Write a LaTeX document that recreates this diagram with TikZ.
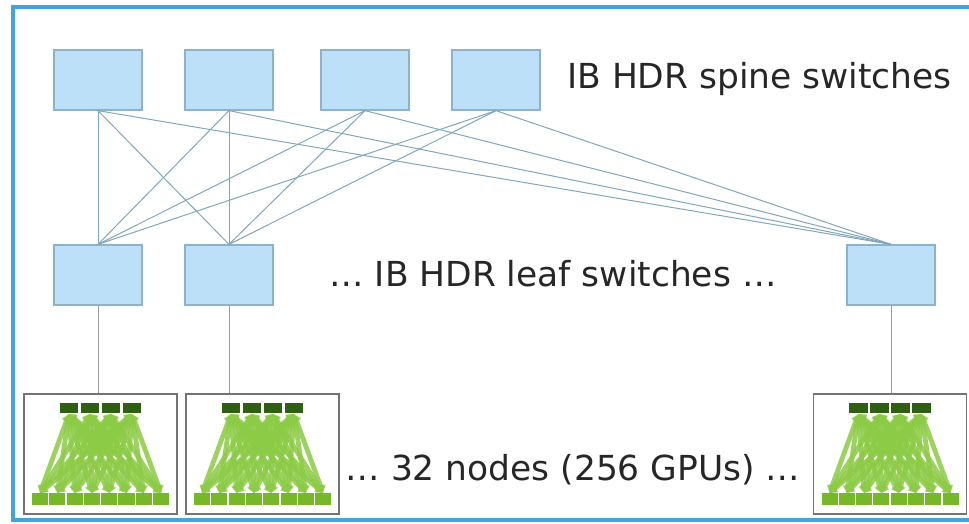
\documentclass[tikz,border=0pt]{standalone}
\usepackage{fontspec}
\setmainfont{DejaVu Sans}
\usepackage{tikz}
\usetikzlibrary{arrows.meta}

\definecolor{framecol}{HTML}{41A5DC}
\definecolor{switchfill}{HTML}{BCE0F8}
\definecolor{switchdraw}{HTML}{8CB2CC}
\definecolor{linkcol}{HTML}{7FA6BC}
\definecolor{nvsw}{HTML}{2F5F10}
\definecolor{gpugreen}{HTML}{76B82A}
\definecolor{fangreen}{HTML}{8CCB45}

\tikzset{
  switch/.style={draw=switchdraw, fill=switchfill, line width=0.9pt,
    minimum width=2.2cm, minimum height=1.5cm, inner sep=0pt},
  link/.style={draw=linkcol, line width=0.7pt},
  uplink/.style={draw=black!40, line width=0.7pt},
  label/.style={inner sep=0pt, text=black!85, font=\fontsize{24.5}{29}\selectfont},
  dgxbox/.style={draw=black!55, line width=0.8pt, fill=white,
    minimum width=3.825cm, minimum height=3cm, inner sep=0pt},
  nvswitch/.style={fill=nvsw, minimum width=0.47cm, minimum height=0.25cm, inner sep=0pt},
  gpu/.style={fill=gpugreen, minimum width=0.4cm, minimum height=0.3cm, inner sep=0pt},
  fan/.style={draw=fangreen, line width=3.4pt, opacity=0.85,
    {Triangle[width=7pt,length=5pt]}-{Triangle[width=7pt,length=5pt]}},
  % one 8-GPU node: 4 switches on top, 8 GPUs below, all-to-all
  dgx/.pic={
    \node[dgxbox] (-box) at (0,0) {};
    \foreach \k in {1,...,8}
      \foreach \j in {1,...,4}
        \draw[fan] (-77.8+\k*17.3,39) -- (-52.5+\j*21,-40);
    \foreach \j in {1,...,4}
      \node[nvswitch] (-sw\j) at (-52.5+\j*21,-46) {};
    \foreach \k in {1,...,8}
      \node[gpu] (-gpu\k) at (-77.8+\k*17.3,45) {};
  }
}

\begin{document}
\begin{tikzpicture}[x=0.025cm, y=-0.025cm]
  \clip (0,0) rectangle (969,524);
  \fill[white] (0,0) rectangle (969,524);

  % outer frame runs off the right edge
  \draw[framecol, line width=2.8pt] (1000,7) -- (13,7) -- (13,520) -- (1000,520);

  % spine layer
  \node[switch] (s1) at (98,80) {};
  \node[switch] (s2) at (229,80) {};
  \node[switch] (s3) at (365,80) {};
  \node[switch] (s4) at (496,80) {};
  \node[label, anchor=west] (spinetext) at (567,79) {IB HDR spine switches};

  % leaf layer
  \node[switch] (l1) at (98,275) {};
  \node[switch] (l2) at (229,275) {};
  \node[switch] (l3) at (891,275) {};
  \node[label] (leaftext) at (553,274) {… IB HDR leaf switches …};

  \foreach \s in {1,...,4}
    \foreach \l in {1,2,3}
      \draw[link] (s\s.south) -- (l\l.north);

  % compute nodes
  \pic (g1) at (100.5,454) {dgx};
  \pic (g2) at (262.5,454) {dgx};
  \pic (g3) at (890,454) {dgx};
  \node[label] (gputext) at (573,470) {… 32 nodes (256 GPUs) …};

  \draw[uplink] (l1.south) -- (l1.south |- g1-box.north);
  \draw[uplink] (l2.south) -- (l2.south |- g2-box.north);
  \draw[uplink] (l3.south) -- (l3.south |- g3-box.north);
\end{tikzpicture}
\end{document}
